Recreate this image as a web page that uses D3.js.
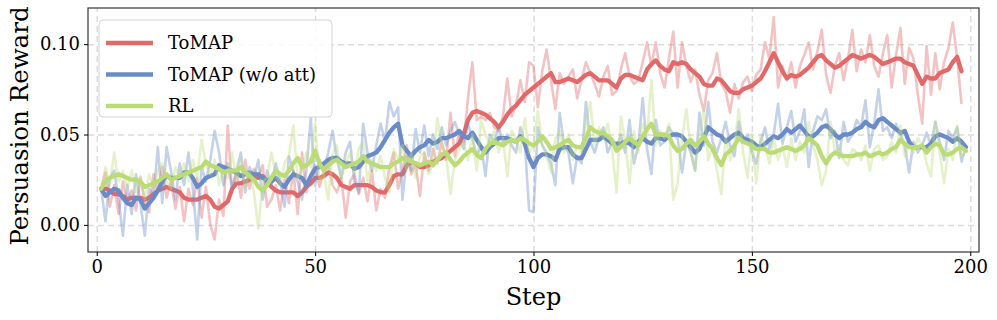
<!DOCTYPE html>
<html>
<head>
<meta charset="utf-8">
<script src="https://cdn.jsdelivr.net/npm/d3@7"></script>
<style>
  body { margin: 0; background: #fff; }
  text { font-family: "DejaVu Serif", serif; }
</style>
</head>
<body>
<script>
// step values start at 1
var seriesNames = ["ToMAP", "ToMAP (w/o att)", "RL"];
var xTicks = [0, 50, 100, 150, 200];
var yTicks = [0.00, 0.05, 0.10];

// ToMAP raw + smoothed
var tomapRaw = [
  0.020,0.029,0.010,0.022,0.006,0.024,0.012,0.019,0.008,0.026,
  0.013,0.007,0.028,0.018,0.032,0.015,0.024,0.009,0.021,0.002,
  0.020,0.011,0.026,0.004,0.021,0.000,-0.008,0.014,0.005,0.055,
  0.018,0.030,0.015,0.036,0.020,0.031,0.026,0.033,0.010,0.014,
  0.022,0.008,0.025,0.012,0.030,0.006,0.040,0.018,0.028,0.033,
  0.021,0.030,0.034,0.022,0.018,0.026,0.004,0.024,0.028,0.017,
  0.026,0.013,0.030,0.008,0.020,0.015,0.032,0.040,0.020,0.030,
  0.044,0.028,0.034,0.016,0.040,0.030,0.042,0.034,0.046,0.036,
  0.062,0.038,0.052,0.046,0.070,0.090,0.058,0.060,0.058,0.062,
  0.054,0.052,0.060,0.081,0.060,0.066,0.080,0.068,0.090,0.088,
  0.065,0.085,0.097,0.080,0.064,0.084,0.078,0.082,0.086,0.070,
  0.080,0.090,0.084,0.078,0.071,0.082,0.088,0.072,0.074,0.086,
  0.095,0.082,0.078,0.080,0.090,0.101,0.088,0.101,0.084,0.076,
  0.092,0.107,0.076,0.101,0.088,0.079,0.086,0.072,0.063,0.080,
  0.084,0.095,0.078,0.074,0.062,0.078,0.070,0.079,0.082,0.074,
  0.083,0.086,0.101,0.092,0.115,0.076,0.088,0.080,0.090,0.076,
  0.088,0.094,0.101,0.086,0.096,0.108,0.083,0.073,0.088,0.095,
  0.080,0.092,0.108,0.085,0.097,0.090,0.105,0.088,0.082,0.095,
  0.105,0.076,0.094,0.109,0.078,0.098,0.092,0.072,0.056,0.099,
  0.072,0.095,0.075,0.090,0.098,0.112,0.092,0.067
];
var tomapSmooth = [
  0.020,0.020,0.019,0.017,0.017,0.016,0.014,0.015,0.015,0.015,
  0.014,0.015,0.017,0.019,0.020,0.021,0.020,0.019,0.018,0.015,
  0.014,0.014,0.014,0.015,0.016,0.014,0.010,0.009,0.011,0.013,
  0.020,0.023,0.023,0.024,0.025,0.027,0.026,0.027,0.024,0.021,
  0.019,0.018,0.018,0.018,0.018,0.016,0.018,0.021,0.023,0.026,
  0.026,0.027,0.029,0.028,0.026,0.022,0.021,0.020,0.022,0.022,
  0.022,0.022,0.021,0.019,0.018,0.018,0.022,0.027,0.028,0.028,
  0.033,0.035,0.034,0.032,0.032,0.033,0.035,0.036,0.037,0.039,
  0.041,0.043,0.045,0.050,0.058,0.062,0.063,0.062,0.061,0.059,
  0.057,0.054,0.057,0.061,0.064,0.066,0.069,0.072,0.074,0.076,
  0.078,0.080,0.082,0.084,0.079,0.079,0.080,0.081,0.080,0.079,
  0.081,0.083,0.084,0.082,0.080,0.080,0.080,0.078,0.076,0.081,
  0.083,0.083,0.082,0.081,0.080,0.086,0.089,0.091,0.088,0.086,
  0.085,0.090,0.089,0.090,0.089,0.086,0.084,0.082,0.078,0.077,
  0.077,0.081,0.080,0.077,0.074,0.073,0.073,0.075,0.076,0.077,
  0.079,0.081,0.085,0.090,0.095,0.090,0.085,0.081,0.083,0.082,
  0.083,0.085,0.087,0.090,0.093,0.094,0.091,0.089,0.087,0.088,
  0.090,0.092,0.094,0.093,0.092,0.093,0.094,0.093,0.091,0.089,
  0.090,0.091,0.092,0.092,0.090,0.089,0.088,0.083,0.078,0.082,
  0.081,0.081,0.084,0.085,0.086,0.090,0.093,0.085
];

// ToMAP (w/o att)
var noAttRaw = [
  0.020,0.002,0.026,0.030,0.014,-0.006,0.022,0.006,0.028,0.012,
  -0.006,0.020,0.016,0.043,0.012,0.043,0.030,0.014,0.034,0.022,
  0.040,0.020,-0.008,0.032,0.024,0.036,0.052,0.040,0.022,0.034,
  0.020,0.030,0.040,0.018,0.032,0.026,0.036,0.014,0.030,0.022,
  0.034,0.024,0.010,0.038,0.030,0.024,0.014,0.030,0.059,0.022,
  0.036,0.030,0.040,0.052,0.036,0.026,0.040,0.046,0.024,0.018,
  0.056,0.040,0.030,0.044,0.056,0.046,0.068,0.060,0.065,0.014,
  0.038,0.030,0.053,0.040,0.055,0.038,0.050,0.042,0.054,0.044,
  0.052,0.057,0.050,0.042,0.056,0.048,0.038,0.044,0.027,0.050,
  0.046,0.054,0.046,0.050,0.044,0.040,0.054,0.046,0.008,0.007,
  0.054,0.044,0.040,0.034,0.022,0.062,0.044,0.040,0.023,0.038,
  0.034,0.068,0.046,0.040,0.048,0.054,0.040,0.046,0.042,0.050,
  0.040,0.058,0.034,0.044,0.070,0.042,0.028,0.058,0.044,0.046,
  0.054,0.050,0.048,0.029,0.046,0.040,0.030,0.062,0.044,0.068,
  0.046,0.040,0.048,0.057,0.044,0.038,0.057,0.046,0.050,0.040,
  0.034,0.046,0.054,0.042,0.050,0.067,0.045,0.054,0.063,0.046,
  0.052,0.064,0.032,0.052,0.060,0.058,0.064,0.048,0.052,0.037,
  0.057,0.046,0.050,0.058,0.054,0.069,0.043,0.056,0.075,0.052,
  0.054,0.048,0.056,0.050,0.044,0.029,0.046,0.040,0.044,0.051,
  0.044,0.057,0.046,0.036,0.052,0.048,0.054,0.035,0.043
];
var noAttSmooth = [
  0.020,0.016,0.018,0.020,0.019,0.015,0.012,0.011,0.015,0.014,
  0.009,0.012,0.015,0.019,0.024,0.027,0.026,0.026,0.026,0.029,
  0.029,0.026,0.021,0.023,0.026,0.027,0.028,0.033,0.032,0.031,
  0.030,0.029,0.027,0.028,0.029,0.028,0.028,0.026,0.025,0.024,
  0.026,0.023,0.021,0.025,0.028,0.027,0.026,0.022,0.027,0.031,
  0.032,0.034,0.036,0.037,0.037,0.035,0.034,0.034,0.031,0.032,
  0.035,0.038,0.039,0.040,0.043,0.047,0.051,0.054,0.056,0.044,
  0.041,0.038,0.041,0.043,0.044,0.047,0.045,0.046,0.048,0.048,
  0.049,0.050,0.052,0.049,0.048,0.051,0.047,0.043,0.040,0.043,
  0.045,0.048,0.048,0.048,0.047,0.046,0.049,0.045,0.037,0.032,
  0.037,0.039,0.039,0.038,0.036,0.042,0.043,0.043,0.039,0.037,
  0.037,0.042,0.047,0.047,0.047,0.049,0.047,0.045,0.045,0.045,
  0.046,0.045,0.043,0.046,0.048,0.046,0.045,0.048,0.048,0.047,
  0.049,0.050,0.050,0.049,0.046,0.043,0.040,0.042,0.048,0.054,
  0.052,0.050,0.049,0.046,0.048,0.050,0.051,0.048,0.047,0.046,
  0.044,0.043,0.045,0.047,0.049,0.048,0.050,0.053,0.051,0.053,
  0.055,0.052,0.049,0.049,0.051,0.054,0.055,0.053,0.050,0.048,
  0.050,0.050,0.051,0.053,0.054,0.057,0.055,0.054,0.058,0.059,
  0.057,0.055,0.053,0.051,0.052,0.046,0.043,0.043,0.043,0.043,
  0.045,0.049,0.050,0.049,0.048,0.046,0.048,0.046,0.043
];

// RL
var rlRaw = [
  0.020,0.032,0.022,0.040,0.024,0.030,0.020,0.030,0.018,0.027,
  0.014,0.028,0.020,0.030,0.034,0.024,0.020,0.032,0.026,0.034,
  0.024,0.036,0.026,0.047,0.034,0.028,0.036,0.022,0.030,0.026,
  0.040,0.024,0.036,0.020,0.030,0.018,-0.002,0.024,0.026,0.040,
  0.028,0.022,0.034,0.038,0.055,0.026,0.030,0.040,0.032,0.056,
  0.024,0.028,0.014,0.040,0.044,0.026,0.034,0.040,0.028,0.042,
  0.046,0.024,0.036,0.030,0.038,0.026,0.018,0.042,0.036,0.044,
  0.030,0.040,0.026,0.038,0.040,0.028,0.034,0.059,0.044,0.038,
  0.017,0.036,0.042,0.046,0.036,0.050,0.030,0.058,0.050,0.044,
  0.052,0.040,0.048,0.027,0.052,0.048,0.040,0.059,0.040,0.044,
  0.063,0.044,0.038,0.029,0.048,0.052,0.040,0.050,0.036,0.044,
  0.040,0.056,0.068,0.044,0.054,0.048,0.056,0.042,0.018,0.060,
  0.046,0.023,0.052,0.040,0.056,0.050,0.080,0.044,0.052,0.048,
  0.056,0.014,0.023,0.048,0.064,0.042,0.030,0.050,0.064,0.036,
  0.044,0.030,0.017,0.048,0.036,0.044,0.064,0.040,0.026,0.050,
  0.023,0.050,0.044,0.034,0.048,0.036,0.044,0.032,0.048,0.036,
  0.046,0.040,0.057,0.044,0.036,0.022,0.030,0.057,0.040,0.044,
  0.036,0.033,0.042,0.040,0.036,0.044,0.030,0.042,0.044,0.036,
  0.038,0.046,0.040,0.055,0.038,0.044,0.040,0.048,0.044,0.034,
  0.027,0.057,0.040,0.023,0.042,0.036,0.055,0.038,0.041
];
var rlSmooth = [
  0.020,0.024,0.026,0.027,0.028,0.027,0.026,0.025,0.025,0.024,
  0.021,0.022,0.023,0.024,0.026,0.028,0.025,0.026,0.027,0.028,
  0.029,0.030,0.031,0.032,0.035,0.033,0.032,0.031,0.029,0.030,
  0.030,0.030,0.032,0.029,0.027,0.025,0.021,0.019,0.022,0.026,
  0.030,0.028,0.027,0.030,0.034,0.037,0.032,0.033,0.035,0.041,
  0.034,0.030,0.033,0.035,0.036,0.034,0.032,0.033,0.034,0.035,
  0.038,0.035,0.034,0.033,0.032,0.032,0.032,0.034,0.035,0.037,
  0.036,0.035,0.034,0.033,0.034,0.035,0.033,0.036,0.039,0.040,
  0.036,0.033,0.035,0.038,0.040,0.042,0.039,0.037,0.042,0.045,
  0.046,0.045,0.044,0.046,0.047,0.046,0.048,0.047,0.045,0.044,
  0.046,0.049,0.046,0.042,0.043,0.044,0.046,0.047,0.044,0.043,
  0.043,0.048,0.054,0.052,0.051,0.051,0.049,0.047,0.041,0.043,
  0.046,0.048,0.046,0.044,0.049,0.053,0.056,0.050,0.050,0.050,
  0.049,0.044,0.041,0.042,0.045,0.047,0.044,0.046,0.049,0.045,
  0.042,0.037,0.033,0.039,0.041,0.044,0.048,0.046,0.045,0.044,
  0.042,0.042,0.042,0.040,0.040,0.041,0.042,0.043,0.042,0.041,
  0.042,0.044,0.048,0.046,0.044,0.038,0.034,0.038,0.040,0.039,
  0.038,0.038,0.038,0.039,0.039,0.040,0.038,0.039,0.040,0.039,
  0.040,0.042,0.043,0.047,0.045,0.043,0.043,0.043,0.044,0.040,
  0.043,0.045,0.044,0.039,0.039,0.040,0.042,0.043,0.041
];

var colors = ["#e2696a", "#6a8bc7", "#bbdb77"];
var series = [
  {name: seriesNames[0], raw: tomapRaw, smooth: tomapSmooth, color: colors[0]},
  {name: seriesNames[1], raw: noAttRaw, smooth: noAttSmooth, color: colors[1]},
  {name: seriesNames[2], raw: rlRaw, smooth: rlSmooth, color: colors[2]}
];

var W = 997, H = 320;
var margin = {top: 8, right: 18, bottom: 68, left: 88},
    width = W - margin.left - margin.right,
    height = H - margin.top - margin.bottom;

var svg = d3.select("body").append("svg")
    .attr("width", W)
    .attr("height", H)
  .append("g")
    .attr("transform", "translate(" + margin.left + "," + margin.top + ")");

var x = d3.scaleLinear().domain([-2, 202]).range([0, width]);
var y = d3.scaleLinear().domain([-0.015, 0.12]).range([height, 0]);

svg.append("clipPath").attr("id", "clip")
  .append("rect").attr("width", width).attr("height", height);

// dashed grid
svg.append("g")
    .attr("transform", "translate(0," + height + ")")
    .call(d3.axisBottom(x).tickValues(xTicks).tickSize(-height).tickFormat(""))
    .call(function(g) {
      g.select(".domain").remove();
      g.selectAll("line").attr("stroke", "#dcdcdc").attr("stroke-width", 1.5).attr("stroke-dasharray", "6,4");
    });
svg.append("g")
    .call(d3.axisLeft(y).tickValues(yTicks).tickSize(-width).tickFormat(""))
    .call(function(g) {
      g.select(".domain").remove();
      g.selectAll("line").attr("stroke", "#dcdcdc").attr("stroke-width", 1.5).attr("stroke-dasharray", "6,4");
    });

var line = d3.line()
    .x(function(d, i) { return x(i + 1); })
    .y(function(d) { return y(d); });

var plot = svg.append("g").attr("clip-path", "url(#clip)");

series.forEach(function(s) {
  plot.append("path")
      .datum(s.raw)
      .attr("fill", "none")
      .attr("stroke", s.color)
      .attr("stroke-opacity", 0.4)
      .attr("stroke-width", 2.6)
      .attr("stroke-linejoin", "round")
      .attr("d", line);
  plot.append("path")
      .datum(s.smooth)
      .attr("fill", "none")
      .attr("stroke", s.color)
      .attr("stroke-width", 4.3)
      .attr("stroke-linejoin", "round")
      .attr("stroke-linecap", "round")
      .attr("d", line);
});

// frame
svg.append("rect")
    .attr("width", width).attr("height", height)
    .attr("fill", "none").attr("stroke", "#333").attr("stroke-width", 1.2);

// axes
var xAxis = svg.append("g")
    .attr("transform", "translate(0," + height + ")")
    .call(d3.axisBottom(x).tickValues(xTicks).tickSize(4).tickPadding(4));
var yAxis = svg.append("g")
    .call(d3.axisLeft(y).tickValues(yTicks).tickSize(4).tickPadding(4).tickFormat(d3.format(".2f")));
[xAxis, yAxis].forEach(function(g) {
  g.select(".domain").remove();
  g.selectAll("line").attr("stroke", "#000").attr("stroke-width", 1);
  g.selectAll("text").style("font-family", "DejaVu Serif").style("font-size", "18px").attr("fill", "#000");
});

svg.append("text")
    .attr("x", x(100))
    .attr("y", height + 53)
    .attr("text-anchor", "middle")
    .style("font-size", "24px")
    .text("Step");

svg.append("text")
    .attr("transform", "rotate(-90)")
    .attr("x", -height / 2 + 4)
    .attr("y", -60)
    .attr("text-anchor", "middle")
    .style("font-size", "24.5px")
    .text("Persuasion Reward");

// legend
var lg = svg.append("g").attr("transform", "translate(11,12)");
lg.append("rect")
    .attr("width", 233).attr("height", 97).attr("rx", 4)
    .attr("fill", "#fff").attr("fill-opacity", 0.85)
    .attr("stroke", "#d4d4d4");
var item = lg.selectAll(".item")
    .data(series)
    .enter().append("g")
    .attr("class", "item")
    .attr("transform", function(d, i) { return "translate(0," + (23 + i * 31.5) + ")"; });
item.append("line")
    .attr("x1", 7).attr("x2", 54)
    .attr("stroke", function(d) { return d.color; })
    .attr("stroke-width", 4.5);
item.append("text")
    .attr("x", 69)
    .attr("dy", "0.35em")
    .style("font-size", "18px")
    .text(function(d) { return d.name; });
</script>
</body>
</html>
